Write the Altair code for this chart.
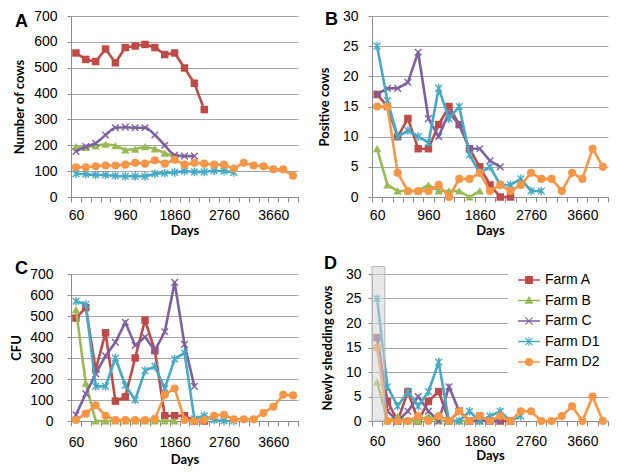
import math
import altair as alt
import pandas as pd

# ---------------- data ----------------
FARMS = ["Farm A", "Farm B", "Farm C", "Farm D1", "Farm D2"]
COLORS = ["#BE4B48", "#98B954", "#7D60A0", "#46AAC5", "#F79646"]
DAYS = [60 + 180 * i for i in range(23)]          # 60 ... 4020
X_LABELS = [60, 960, 1860, 2760, 3660]

# Panel A: Number of cows
cows_A = [557, 532, 524, 572, 519, 578, 584, 590, 578, 551, 557, 499, 440, 338]
cows_B = [195, 192, 198, 204, 199, 182, 185, 195, 186, 170, 155]
cows_C = [176, 195, 208, 240, 268, 270, 268, 268, 240, 200, 162, 158, 158]
cows_D1 = [90, 88, 85, 85, 82, 80, 80, 80, 90, 92, 95, 100, 97, 97, 102, 100, 95]
cows_D2 = [115, 115, 119, 122, 122, 125, 132, 129, 142, 129, 144, 125, 132, 129, 125,
           125, 110, 132, 122, 119, 107, 107, 82]

# Panel B: Positive cows
pos_A = [17, 15, 10, 13, 8, 8, 12, 15, 12, 8, 5, 2, 0, 0]
pos_B = [8, 2, 1, 1, 1, 2, 1, 1, 1, 0, 1]
pos_C = [17, 18, 18, 19, 24, 13, 10, 14, 12, 8, 8, 6, 5]
pos_D1 = [25, 16, 10, 11, 10, 9, 18, 13, 15, 7, 4, 5, 2, 2, 3, 1, 1]
pos_D2 = [15, 15, 4, 1, 1, 1, 2, 0, 3, 3, 4, 1, 2, 1, 2, 4, 3, 3, 1, 4, 3, 8, 5]

# Panel C: CFU
cfu_A = [490, 540, 245, 420, 95, 115, 300, 480, 335, 25, 25, 25, 0, 0]
cfu_B = [530, 180, 0, 0, 0, 0, 0, 0, 0, 0, 0]
cfu_C = [30, 130, 225, 310, 375, 470, 360, 400, 335, 425, 660, 365, 165]
cfu_D1 = [570, 555, 165, 165, 300, 170, 100, 240, 260, 155, 295, 325, 10, 25, 5, 0, 0]
cfu_D2 = [5, 35, 75, 25, 5, 5, 5, 5, 10, 125, 155, 5, 0, 5, 25, 30, 8, 8, 8, 38, 68, 125, 122]

# Panel D: Newly shedding cows
new_A = [17, 4, 0, 6, 0, 4, 6, 0, 2, 0, 1, 0, 0, 0]
new_B = [8, 0, 1, 0, 0, 1, 0, 0, 0, 0, 0]
new_C = [17, 2, 0, 2, 5, 2, 0, 7, 2, 0, 0, 0, 0]
new_D1 = [25, 7, 3, 6, 3, 6, 12, 0, 0, 2, 0, 1, 2, 0, 1]
new_D2 = [15, 0, 0, 0, 1, 0, 1, 0, 2, 0, 1, 0, 1, 0, 2, 2, 0, 0, 1, 3, 0, 5, 0]

# shaded highlight band in panel D
BAND_X = [-30, 195]
BAND_Y = [0, 31.5]

# ---------------- styling helpers ----------------
X_DOMAIN = [-30, 4110]
X_BOUNDS = [-30 + 180 * i for i in range(24)]
X_VALUES = sorted(set(X_BOUNDS + X_LABELS))


def poly(points):
    area = 0.0
    for i in range(len(points)):
        x1, y1 = points[i]
        x2, y2 = points[(i + 1) % len(points)]
        area += x1 * y2 - x2 * y1
    if area < 0:
        points = points[::-1]
    return "M" + "L".join(f"{x:.3f},{y:.3f}" for x, y in points) + "Z"


def bar(x1, y1, x2, y2, t):
    dx, dy = x2 - x1, y2 - y1
    ln = math.hypot(dx, dy)
    nx, ny = -dy / ln * t, dx / ln * t
    return poly([(x1 + nx, y1 + ny), (x2 + nx, y2 + ny), (x2 - nx, y2 - ny), (x1 - nx, y1 - ny)])


LINE = poly([(-1, -0.06), (1, -0.06), (1, 0.06), (-1, 0.06)])
L_SQUARE = poly([(-0.36, -0.36), (0.36, -0.36), (0.36, 0.36), (-0.36, 0.36)])
L_TRI = poly([(0, -0.42), (0.4, 0.3), (-0.4, 0.3)])
L_X = bar(-0.33, -0.33, 0.33, 0.33, 0.05) + bar(-0.33, 0.33, 0.33, -0.33, 0.05)
L_AST = L_X + bar(0, -0.42, 0, 0.42, 0.05)
L_CIRC = poly([(0.38 * math.cos(2 * math.pi * k / 20), 0.38 * math.sin(2 * math.pi * k / 20)) for k in range(20)])
LEGEND_PATHS = [LINE + L_SQUARE, LINE + L_TRI, LINE + L_X, LINE + L_AST, LINE + L_CIRC]

X_PATH = "M-1,-1L1,1M-1,1L1,-1"
AST_PATH = "M-1,-1L1,1M-1,1L1,-1M0,-1.3L0,1.3"
MARKERS = [
    dict(shape="square", size=56, filled=True),
    dict(shape="triangle-up", size=70, filled=True),
    dict(shape=X_PATH, size=44, filled=False, strokeWidth=1.4),
    dict(shape=AST_PATH, size=44, filled=False, strokeWidth=1.4),
    dict(shape="circle", size=66, filled=True),
]


def x_enc(field, lab_pad, title_pad):
    return alt.X(
        f"{field}:Q", title="Days",
        scale=alt.Scale(domain=X_DOMAIN, nice=False, zero=False),
        axis=alt.Axis(
            values=X_VALUES, format="d", grid=False, tickSize=5,
            labelExpr="(datum.value - 60) % 900 === 0 ? datum.label : ''",
            tickOpacity={"condition": {"test": "(datum.value + 30) % 180 === 0", "value": 1}, "value": 0},
            labelPadding=lab_pad, titlePadding=title_pad,
            labelFlush=False, labelOverlap=False))


def y_enc(field, ymax, ystep, title, lab_pad, title_pad):
    return alt.Y(
        f"{field}:Q", title=title,
        scale=alt.Scale(domain=[0, ymax], nice=False),
        axis=alt.Axis(values=list(range(0, ymax + 1, ystep)), tickSize=4, grid=True,
                      labelPadding=lab_pad, titlePadding=title_pad))


def panel(series, ymax, ystep, ytitle, letter, ldx, ldy, w, h,
          xlp, xtp, ylp, ytp, smooth=(), legend=False, band=False):
    rows = []
    for farm, vals in zip(FARMS, series):
        for i, v in enumerate(vals):
            rows.append({"farm": farm, "day": DAYS[i], "value": v})
    df = pd.DataFrame(rows)
    xe = x_enc("day", xlp, xtp)
    ye = y_enc("value", ymax, ystep, ytitle, ylp, ytp)
    base = alt.Chart(df)
    layers = []
    for i, farm in enumerate(FARMS):
        s = base.transform_filter(alt.datum.farm == farm)
        layers.append(s.mark_line(color=COLORS[i], strokeWidth=2.6,
                                  interpolate="monotone" if farm in smooth else "linear"
                                  ).encode(x=xe, y=ye))
        layers.append(s.mark_point(color=COLORS[i], opacity=1, **MARKERS[i]).encode(x=xe, y=ye))
    if band:
        bdf = pd.DataFrame({"x0": [BAND_X[0]], "x1": [BAND_X[1]], "y0": [BAND_Y[0]], "y1": [BAND_Y[1]]})
        layers.append(alt.Chart(bdf).mark_rect(fill="#d6d6d6", fillOpacity=0.55, stroke="#b5b5b5",
                                               strokeWidth=1).encode(
            x=x_enc("x0", xlp, xtp), x2="x1:Q",
            y=y_enc("y0", ymax, ystep, ytitle, ylp, ytp), y2="y1:Q"))
    if legend:
        leg = dict(title=None, orient="none", legendX=136, legendY=-15,
                   symbolSize=484, symbolOpacity=1, symbolStrokeWidth=0,
                   labelFont="Liberation Sans", labelFontSize=14, labelColor="black",
                   labelOffset=5, fillColor="white", padding=10, rowPadding=2.5)
        ldf = pd.DataFrame({"farm": FARMS})
        layers.append(alt.Chart(ldf).mark_point(filled=True, opacity=0).encode(
            color=alt.Color("farm:N", scale=alt.Scale(domain=FARMS, range=COLORS), legend=alt.Legend(**leg)),
            shape=alt.Shape("farm:N", scale=alt.Scale(domain=FARMS, range=LEGEND_PATHS), legend=alt.Legend(**leg))))
    tdf = pd.DataFrame({"t": [letter]})
    layers.append(alt.Chart(tdf).mark_text(font="Liberation Sans", fontWeight="bold", fontSize=18,
                                           align="left", baseline="alphabetic", color="black").encode(
        text="t:N", x=alt.value(ldx), y=alt.value(ldy)))
    return alt.layer(*layers).properties(width=w, height=h)


pA = panel([cows_A, cows_B, cows_C, cows_D1, cows_D2], 700, 100, "Number of cows", "A", -56, 11,
           227, 181, 6, 2, 10, 7, smooth=("Farm C", "Farm D1"))
pB = panel([pos_A, pos_B, pos_C, pos_D1, pos_D2], 30, 5, "Positive cows", "B", -47, 9,
           236, 181, 6, 2, 10, 11)
pC = panel([cfu_A, cfu_B, cfu_C, cfu_D1, cfu_D2], 700, 100, "CFU", "C", -56, 0,
           227, 147, 9, 4, 14, 6)
pD = panel([new_A, new_B, new_C, new_D1, new_D2], 30, 5, "Newly shedding cows", "D", -48, -5,
           236, 147, 8, 1, 7, 11, legend=True, band=True)

chart = alt.concat(pA, pB, pC, pD, columns=2, spacing={"row": 77, "column": 74},
                   bounds="flush").resolve_scale(
    color="independent", shape="independent"
).resolve_legend(
    color="independent", shape="independent"
).properties(
    padding={"left": 2, "top": 0, "right": 0, "bottom": 0}
).configure_view(stroke="transparent").configure_axis(
    labelFont="Liberation Sans", labelFontSize=14, labelColor="black",
    titleFont="Lato", titleFontSize=13, titleFontWeight="bold", titleColor="black",
    gridColor="#a6a6a6", gridWidth=1, domainColor="#8c8c8c", tickColor="#8c8c8c")

chart.save("out.html", embed_options={"renderer": "svg", "actions": False})
